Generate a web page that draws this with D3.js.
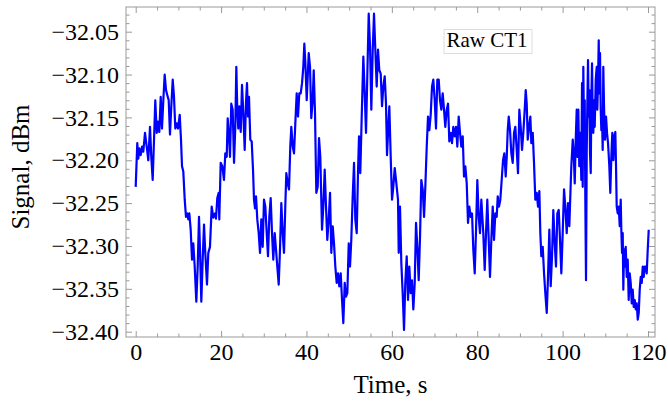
<!DOCTYPE html>
<html>
<head>
<meta charset="utf-8">
<script src="https://cdn.jsdelivr.net/npm/d3@7"></script>
<style>
  html, body { margin: 0; padding: 0; background: #fff; }
  svg { display: block; }
  svg text { font-family: "Liberation Serif", "Times New Roman", serif !important; fill: #000; }
</style>
</head>
<body>
<svg id="chart" width="668" height="407"></svg>
<script>
// ---- data ----
const timeS = [
0.00,0.37,0.61,0.84,1.17,1.48,1.78,2.18,2.58,2.95,3.35,3.65,3.98,4.29,4.59,4.92,5.22,5.53,5.86,6.16,
6.47,6.79,7.10,7.40,7.73,8.03,8.34,8.67,8.97,9.28,9.60,9.91,10.31,10.61,10.85,11.15,11.48,11.78,12.09,12.32,
12.56,12.88,13.19,13.49,13.82,14.20,14.52,14.83,15.06,15.37,15.69,16.00,16.30,16.70,17.01,17.40,17.80,18.18,18.58,18.81,
19.11,19.44,19.58,19.91,20.29,20.68,20.99,21.32,21.55,21.86,22.09,22.39,22.72,23.03,23.33,23.57,23.80,24.03,24.27,24.60,
24.90,25.21,25.53,25.84,26.07,26.31,26.54,26.84,27.17,27.48,27.71,27.95,28.18,28.48,28.81,29.12,29.42,29.75,30.05,30.36,
30.69,30.99,31.30,31.62,31.93,32.23,32.56,32.86,33.17,33.50,33.80,34.11,34.43,34.74,35.04,35.28,35.61,35.91,36.21,36.45,
36.78,37.08,37.39,37.71,38.02,38.32,38.65,38.96,39.26,39.50,39.73,40.06,40.53,40.83,41.13,41.46,41.70,42.00,42.31,42.63,
42.94,43.24,43.64,43.95,44.27,44.58,44.88,45.21,45.52,45.82,46.15,46.45,46.76,47.08,47.39,47.69,48.02,48.33,48.63,48.96,
49.26,49.57,49.90,50.20,50.50,50.83,51.14,51.44,51.77,52.07,52.31,52.61,52.94,53.32,53.64,53.95,54.25,54.58,54.89,55.19,
55.52,55.82,56.13,56.45,56.76,57.06,57.39,57.70,58.00,58.33,58.63,58.87,59.17,59.41,59.73,60.04,60.34,60.67,60.97,61.44,
61.61,61.91,62.22,62.54,62.85,63.15,63.48,63.79,64.09,64.42,64.72,65.03,65.36,65.66,65.97,66.29,66.60,66.90,67.23,67.54,
67.84,68.17,68.47,68.78,69.10,69.41,69.71,70.04,70.34,70.65,70.98,71.28,71.59,71.91,72.22,72.52,72.85,73.16,73.46,73.79,
74.09,74.40,74.73,75.03,75.34,75.66,75.97,76.27,76.60,76.90,77.21,77.54,77.84,78.15,78.47,78.78,79.08,79.41,79.72,80.02,
80.35,80.65,80.96,81.42,81.75,82.06,82.36,82.69,82.99,83.30,83.63,83.93,84.24,84.56,84.80,85.10,85.41,85.73,86.04,86.34,
86.67,86.91,87.14,87.38,87.68,87.99,88.31,88.62,88.92,89.25,89.55,89.86,90.18,90.49,90.79,91.12,91.36,91.59,91.83,92.13,
92.44,92.67,93.00,93.30,93.61,93.94,94.24,94.55,94.78,95.01,95.34,95.65,95.95,96.28,96.58,96.89,97.21,97.52,97.82,98.15,
98.45,98.76,99.09,99.39,99.70,100.02,100.33,100.63,100.96,101.27,101.57,101.90,102.04,102.37,102.60,102.84,103.07,103.30,103.44,103.68,
103.91,104.15,104.38,104.55,104.71,104.85,105.01,105.18,105.32,105.48,105.65,105.79,105.95,106.12,106.26,106.42,106.59,106.73,106.89,107.05,
107.19,107.36,107.52,107.76,107.99,108.13,108.29,108.46,108.60,108.76,108.93,109.07,109.23,109.39,109.53,109.70,109.93,110.17,110.40,110.64,
110.94,111.17,111.41,111.64,111.88,112.11,112.35,112.51,112.67,112.91,113.14,113.38,113.61,113.75,113.92,114.08,114.22,114.39,114.55,114.78,
115.02,115.25,115.48,115.72,115.95,116.19,116.42,116.66,116.89,117.13,117.36,117.60,117.83,118.06,118.30,118.53,118.77,119.00,119.23,119.47,
119.70,119.94,120.17
];
const signalDBm = [
-32.231,-32.180,-32.198,-32.186,-32.194,-32.184,-32.190,-32.168,-32.184,-32.200,-32.161,-32.196,-32.223,-32.176,-32.130,-32.168,-32.155,-32.167,-32.126,-32.163,
-32.130,-32.100,-32.118,-32.124,-32.130,-32.170,-32.137,-32.106,-32.126,-32.163,-32.157,-32.163,-32.147,-32.176,-32.207,-32.213,-32.246,-32.266,-32.262,-32.269,
-32.262,-32.281,-32.316,-32.297,-32.324,-32.365,-32.324,-32.266,-32.304,-32.365,-32.316,-32.275,-32.308,-32.345,-32.308,-32.301,-32.254,-32.267,-32.262,-32.268,
-32.244,-32.238,-32.269,-32.203,-32.207,-32.223,-32.192,-32.196,-32.151,-32.172,-32.196,-32.134,-32.141,-32.203,-32.161,-32.091,-32.141,-32.163,-32.137,-32.167,
-32.112,-32.145,-32.188,-32.132,-32.110,-32.149,-32.126,-32.176,-32.178,-32.211,-32.246,-32.256,-32.242,-32.269,-32.285,-32.308,-32.269,-32.301,-32.246,-32.254,
-32.285,-32.312,-32.266,-32.244,-32.285,-32.316,-32.285,-32.304,-32.324,-32.345,-32.304,-32.250,-32.285,-32.308,-32.254,-32.215,-32.227,-32.234,-32.184,-32.161,
-32.184,-32.192,-32.157,-32.122,-32.149,-32.122,-32.122,-32.110,-32.091,-32.064,-32.085,-32.130,-32.075,-32.091,-32.151,-32.130,-32.095,-32.145,-32.238,-32.231,
-32.174,-32.196,-32.281,-32.254,-32.211,-32.254,-32.293,-32.269,-32.238,-32.308,-32.277,-32.297,-32.324,-32.343,-32.332,-32.347,-32.332,-32.363,-32.390,-32.343,
-32.359,-32.355,-32.297,-32.324,-32.293,-32.242,-32.203,-32.269,-32.285,-32.215,-32.172,-32.215,-32.149,-32.079,-32.122,-32.168,-32.102,-32.029,-32.067,-32.141,
-32.071,-32.029,-32.071,-32.114,-32.071,-32.095,-32.099,-32.137,-32.114,-32.102,-32.134,-32.194,-32.161,-32.137,-32.196,-32.246,-32.231,-32.209,-32.223,-32.246,
-32.308,-32.254,-32.320,-32.355,-32.398,-32.343,-32.312,-32.363,-32.324,-32.355,-32.340,-32.374,-32.343,-32.273,-32.301,-32.340,-32.289,-32.223,-32.234,-32.266,
-32.231,-32.184,-32.149,-32.165,-32.147,-32.114,-32.106,-32.130,-32.163,-32.106,-32.106,-32.130,-32.141,-32.122,-32.141,-32.161,-32.141,-32.134,-32.178,-32.168,
-32.180,-32.161,-32.172,-32.161,-32.184,-32.149,-32.168,-32.184,-32.172,-32.219,-32.207,-32.227,-32.273,-32.254,-32.266,-32.262,-32.304,-32.332,-32.281,-32.223,
-32.266,-32.285,-32.246,-32.285,-32.328,-32.285,-32.246,-32.293,-32.336,-32.293,-32.254,-32.293,-32.262,-32.266,-32.242,-32.254,-32.246,-32.223,-32.200,-32.192,
-32.219,-32.196,-32.165,-32.149,-32.165,-32.192,-32.203,-32.168,-32.161,-32.188,-32.215,-32.141,-32.161,-32.188,-32.168,-32.141,-32.118,-32.134,-32.176,-32.161,
-32.149,-32.180,-32.168,-32.203,-32.246,-32.238,-32.254,-32.236,-32.285,-32.312,-32.301,-32.332,-32.355,-32.378,-32.336,-32.281,-32.347,-32.312,-32.258,-32.297,
-32.324,-32.262,-32.258,-32.293,-32.332,-32.285,-32.234,-32.254,-32.285,-32.250,-32.277,-32.227,-32.207,-32.176,-32.192,-32.227,-32.176,-32.141,-32.196,-32.141,
-32.207,-32.168,-32.223,-32.110,-32.231,-32.091,-32.168,-32.130,-32.246,-32.340,-32.188,-32.134,-32.083,-32.149,-32.118,-32.192,-32.215,-32.130,-32.087,-32.149,
-32.168,-32.130,-32.161,-32.106,-32.091,-32.141,-32.110,-32.060,-32.122,-32.075,-32.141,-32.165,-32.149,-32.188,-32.091,-32.137,-32.176,-32.149,-32.168,-32.180,
-32.207,-32.238,-32.196,-32.168,-32.200,-32.172,-32.167,-32.207,-32.254,-32.262,-32.254,-32.277,-32.246,-32.281,-32.308,-32.285,-32.351,-32.304,-32.324,-32.301,
-32.336,-32.316,-32.363,-32.332,-32.343,-32.367,-32.351,-32.371,-32.363,-32.374,-32.367,-32.386,-32.378,-32.351,-32.336,-32.343,-32.324,-32.336,-32.324,-32.324,
-32.332,-32.304,-32.281
];
const xMajorTicks = [0, 20, 40, 60, 80, 100, 120];
const xMinorTicks = [5, 10, 15, 25, 30, 35, 45, 50, 55, 65, 70, 75, 85, 90, 95, 105, 110, 115];
const yMajorTicks = [-32.40, -32.35, -32.30, -32.25, -32.20, -32.15, -32.10, -32.05];
const yMinorTicks = [-32.39,-32.38,-32.37,-32.36,-32.34,-32.33,-32.32,-32.31,-32.29,-32.28,-32.27,-32.26,
  -32.24,-32.23,-32.22,-32.21,-32.19,-32.18,-32.17,-32.16,-32.14,-32.13,-32.12,-32.11,-32.09,-32.08,-32.07,-32.06,-32.04,-32.03];
const xTitle = "Time, s";
const yTitle = "Signal, dBm";
const legendLabel = "Raw CT1";

// ---- layout ----
const frame = { left: 126, right: 655, top: 7, bottom: 337 };
const svg = d3.select("#chart");
const serif = '"Liberation Serif", "Times New Roman", serif';

const x = d3.scaleLinear().domain([0, 120]).range([135.7, 648]);
const y = d3.scaleLinear().domain([-32.40, -32.05]).range([331.7, 31.7]);

const frameColor = "#9a9a9a";
const yInRange = v => y(v) > frame.top + 0.5 && y(v) < frame.bottom - 0.5;

// frame
svg.append("rect")
  .attr("x", frame.left).attr("y", frame.top)
  .attr("width", frame.right - frame.left).attr("height", frame.bottom - frame.top)
  .attr("fill", "none").attr("stroke", frameColor).attr("stroke-width", 1);

function styleAxis(g) {
  g.select(".domain").remove();
  g.attr("font-family", serif).attr("font-size", 24);
  g.selectAll(".tick line").attr("stroke", frameColor).attr("stroke-width", 1);
  g.selectAll(".tick text").attr("font-family", serif).attr("font-size", 24).attr("fill", "#000");
}

const fmtY = d => "\u2212" + Math.abs(d).toFixed(2);

// bottom
svg.append("g").attr("transform", `translate(0,${frame.bottom})`)
  .call(d3.axisBottom(x).tickValues(xMajorTicks).tickSizeInner(-6).tickSizeOuter(0).tickPadding(6).tickFormat(d3.format("d")))
  .call(styleAxis);
svg.append("g").attr("transform", `translate(0,${frame.bottom})`)
  .call(d3.axisBottom(x).tickValues(xMinorTicks).tickSizeInner(-3.5).tickSizeOuter(0).tickFormat(""))
  .call(styleAxis);
// top
svg.append("g").attr("transform", `translate(0,${frame.top})`)
  .call(d3.axisTop(x).tickValues(xMajorTicks).tickSizeInner(-6).tickSizeOuter(0).tickFormat(""))
  .call(styleAxis);
svg.append("g").attr("transform", `translate(0,${frame.top})`)
  .call(d3.axisTop(x).tickValues(xMinorTicks).tickSizeInner(-3.5).tickSizeOuter(0).tickFormat(""))
  .call(styleAxis);
// left
svg.append("g").attr("transform", `translate(${frame.left},0)`)
  .call(d3.axisLeft(y).tickValues(yMajorTicks).tickSizeInner(-6).tickSizeOuter(0).tickPadding(7).tickFormat(fmtY))
  .call(styleAxis);
svg.append("g").attr("transform", `translate(${frame.left},0)`)
  .call(d3.axisLeft(y).tickValues(yMinorTicks.filter(yInRange)).tickSizeInner(-3.5).tickSizeOuter(0).tickFormat(""))
  .call(styleAxis);
// right
svg.append("g").attr("transform", `translate(${frame.right},0)`)
  .call(d3.axisRight(y).tickValues(yMajorTicks).tickSizeInner(-6).tickSizeOuter(0).tickFormat(""))
  .call(styleAxis);
svg.append("g").attr("transform", `translate(${frame.right},0)`)
  .call(d3.axisRight(y).tickValues(yMinorTicks.filter(yInRange)).tickSizeInner(-3.5).tickSizeOuter(0).tickFormat(""))
  .call(styleAxis);

// clip
svg.append("clipPath").attr("id", "plotclip").append("rect")
  .attr("x", frame.left).attr("y", frame.top)
  .attr("width", frame.right - frame.left).attr("height", frame.bottom - frame.top);

const data = timeS.map((t, i) => ({ t, v: signalDBm[i] }));
const line = d3.line().x(d => x(d.t)).y(d => y(d.v));
svg.append("path")
  .datum(data)
  .attr("clip-path", "url(#plotclip)")
  .attr("d", line)
  .attr("fill", "none")
  .attr("stroke", "#0000ff")
  .attr("stroke-width", 2.2)
  .attr("stroke-linejoin", "round");

// legend
svg.append("rect")
  .attr("x", 444).attr("y", 29.5).attr("width", 88).attr("height", 24)
  .attr("fill", "#fff").attr("stroke", "#dddddd").attr("stroke-width", 1);
svg.append("text")
  .attr("x", 487).attr("y", 47)
  .attr("text-anchor", "middle")
  .attr("font-family", serif)
  .attr("font-size", 21)
  .text(legendLabel);

// axis titles
svg.append("text")
  .attr("x", (frame.left + frame.right) / 2).attr("y", 393)
  .attr("text-anchor", "middle")
  .attr("font-family", serif)
  .attr("font-size", 25)
  .text(xTitle);
svg.append("text")
  .attr("transform", `translate(28.5,${(frame.top + frame.bottom) / 2 - 5}) rotate(-90)`)
  .attr("text-anchor", "middle")
  .attr("font-family", serif)
  .attr("font-size", 25)
  .text(yTitle);
</script>
</body>
</html>
